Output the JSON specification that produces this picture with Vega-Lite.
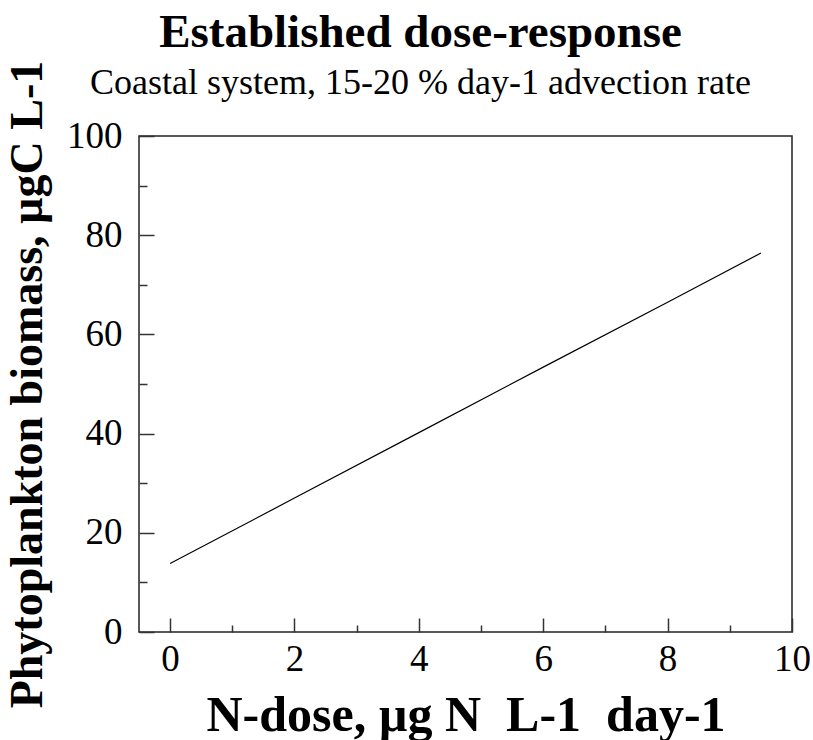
{
  "$schema": "https://vega.github.io/schema/vega-lite/v6.json",
  "width": 653,
  "height": 496,
  "autosize": {"type": "none"},
  "padding": {"left": 139, "top": 136, "right": 21, "bottom": 108},
  "background": "white",
  "config": {
    "font": "Liberation Serif",
    "view": {"stroke": "#222", "strokeWidth": 1.5},
    "axis": {"grid": false, "domain": false, "tickColor": "#333", "tickWidth": 1.5, "labelColor": "black", "titleColor": "black", "labelFont": "Liberation Serif", "titleFont": "Liberation Serif"}
  },
  "title": {
    "text": "Established dose-response",
    "subtitle": "Coastal system, 15-20 % day-1 advection rate",
    "font": "Liberation Serif",
    "fontSize": 47,
    "fontWeight": "bold",
    "color": "black",
    "subtitleFont": "Liberation Serif",
    "subtitleFontSize": 36,
    "subtitleColor": "black",
    "subtitlePadding": 9,
    "anchor": "middle",
    "frame": "group",
    "dx": -45,
    "offset": -42
  },
  "data": {
    "values": [
      {"dose": 0, "biomass": 13.8},
      {"dose": 2, "biomass": 27.0},
      {"dose": 4, "biomass": 40.2},
      {"dose": 6, "biomass": 53.4},
      {"dose": 8, "biomass": 66.5},
      {"dose": 9.5, "biomass": 76.4}
    ]
  },
  "layer": [
    {
      "mark": {"type": "line", "color": "black", "strokeWidth": 1.2},
      "encoding": {
        "x": {
          "field": "dose", "type": "quantitative",
          "scale": {"domain": [-0.5, 10], "nice": false, "zero": false},
          "axis": {"orient": "bottom", "values": [0, 2, 4, 6, 8, 10], "tickSize": -14, "labelPadding": 23, "labelFontSize": 37, "labelFlush": false, "title": "N-dose, µg N\u00a0 L-1\u00a0 day-1", "titleFontSize": 50, "titleFontWeight": "bold", "titlePadding": 13}
        },
        "y": {
          "field": "biomass", "type": "quantitative",
          "scale": {"domain": [0, 100], "nice": false},
          "axis": {"orient": "left", "values": [0, 20, 40, 60, 80, 100], "tickSize": -15, "labelPadding": 32, "labelFontSize": 37, "labelFlush": false, "title": "Phytoplankton biomass, µgC L-1", "titleFontSize": 46, "titleFontWeight": "bold", "titlePadding": 15}
        }
      }
    },
    {
      "mark": {"type": "line", "opacity": 0},
      "encoding": {
        "x": {
          "field": "dose", "type": "quantitative",
          "scale": {"domain": [-0.5, 10], "nice": false, "zero": false},
          "axis": {"orient": "bottom", "values": [1, 3, 5, 7, 9], "tickSize": -7, "labels": false, "title": null}
        },
        "y": {
          "field": "biomass", "type": "quantitative",
          "scale": {"domain": [0, 100], "nice": false},
          "axis": {"orient": "left", "values": [10, 30, 50, 70, 90], "tickSize": -8, "labels": false, "title": null}
        }
      }
    }
  ],
  "resolve": {"axis": {"x": "independent", "y": "independent"}}
}
